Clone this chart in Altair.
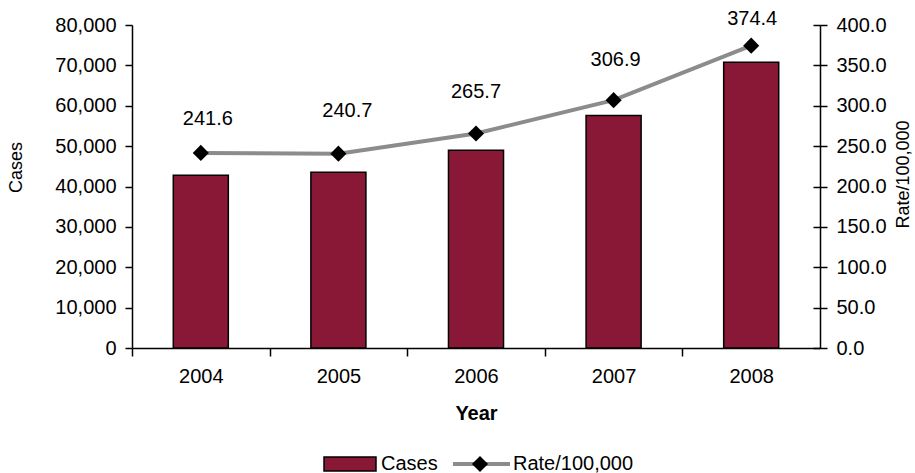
import altair as alt
import pandas as pd

years = ["2004", "2005", "2006", "2007", "2008"]
cases = [42800, 43500, 49000, 57600, 70800]
rates = [241.6, 240.7, 265.7, 306.9, 374.4]
# manual nudges of the value labels (pixels), as placed in the original
label_dy = [-34, -43, -41, -40, -27]
label_dx = [7, 9, 0, 2, 1]
legend_names = ["Cases", "Rate/100,000"]

case_ticks = list(range(0, 80001, 10000))
rate_ticks = [0, 50, 100, 150, 200, 250, 300, 350, 400]

df = pd.DataFrame({"Year": years, "Cases": cases, "Rate": rates,
                   "dy": label_dy, "dx": label_dx})

W, H = 688, 323
FONT = "Liberation Sans"
BAR = "#891836"
LINE = "#8c8c8c"
STEP = W / len(years)

base = alt.Chart(df)

x_enc = alt.X(
    "Year:N", title="Year", sort=years,
    scale=alt.Scale(paddingInner=0.6, paddingOuter=0.3),
    axis=alt.Axis(labelAngle=0, tickOffset=-STEP / 2, labelOffset=STEP / 2,
                  tickSize=8, labelPadding=10, titlePadding=17,
                  titleFontWeight="bold", titleFontSize=20),
)

bars = base.mark_bar(color=BAR, stroke="black", strokeWidth=1.5).encode(
    x=x_enc,
    y=alt.Y("Cases:Q", scale=alt.Scale(domain=[0, 80000]),
            axis=alt.Axis(values=case_ticks, format=",.0f", title="Cases",
                          titleFontSize=18, titleFontWeight="normal",
                          titleY=142,
                          titlePadding=29, tickSize=7, labelPadding=9)),
)

y_rate = alt.Y("Rate:Q", scale=alt.Scale(domain=[0, 400]),
               axis=alt.Axis(orient="right", values=rate_ticks, format=".1f",
                             title="Rate/100,000", titleAngle=270,
                             titleBaseline="top", titleY=149,
                             titleFontSize=18, titleFontWeight="normal",
                             titlePadding=8, tickSize=7, labelPadding=9))

line = base.mark_line(color=LINE, strokeWidth=4).encode(x=x_enc, y=y_rate)
pts = base.mark_point(shape="diamond", filled=True, color="black",
                      size=260, opacity=1).encode(x=x_enc, y=y_rate)
labels = base.mark_text(font=FONT, fontSize=20, color="black",
                        dx=alt.expr("datum.dx"), dy=alt.expr("datum.dy")).encode(
    x=x_enc, y=y_rate,
    text=alt.Text("Rate:Q", format=".1f"),
)
rate_layer = alt.layer(line, pts, labels)

# inner half of the crossing ticks on the right axis
inner_ticks = base.mark_point(opacity=0).encode(
    y=alt.Y("Rate:Q", scale=alt.Scale(domain=[0, 400]),
            axis=alt.Axis(orient="right", values=rate_ticks, labels=False,
                          domain=False, title=None, tickSize=7, offset=-7))
)

# manual legend below the plot
leg1 = alt.Chart(pd.DataFrame({"k": [legend_names[0]]}))
leg2 = alt.Chart(pd.DataFrame({"k": [legend_names[1]]}))
ly = 439
sw = leg1.mark_rect(color=BAR, stroke="black", strokeWidth=1.5).encode(
    x=alt.value(192), x2=alt.value(244), y=alt.value(ly - 7), y2=alt.value(ly + 7))
t1 = leg1.mark_text(font=FONT, fontSize=20, align="left", baseline="middle").encode(
    x=alt.value(249), y=alt.value(ly), text="k:N")
ln = leg2.mark_rule(color=LINE, strokeWidth=4).encode(
    x=alt.value(321), x2=alt.value(378), y=alt.value(ly))
dm = leg2.mark_point(shape="diamond", filled=True, color="black", size=260,
                     opacity=1).encode(x=alt.value(348), y=alt.value(ly))
t2 = leg2.mark_text(font=FONT, fontSize=20, align="left", baseline="middle").encode(
    x=alt.value(381), y=alt.value(ly), text="k:N")

chart = alt.layer(bars, rate_layer, inner_ticks, sw, t1, ln, dm, t2).resolve_scale(
    y="independent"
).properties(
    width=W, height=H,
    background="white",
    autosize=alt.AutoSizeParams(type="none"),
    padding={"left": 132, "top": 25, "right": 95, "bottom": 125},
).configure_view(stroke=None).configure_axis(
    grid=False, domainColor="black", tickColor="black", labelColor="black",
    titleColor="black", domainWidth=1.5, tickWidth=1.5,
    labelFont=FONT, titleFont=FONT, labelFontSize=20,
)

chart.save("out.html", embed_options={"renderer": "svg", "actions": False})
